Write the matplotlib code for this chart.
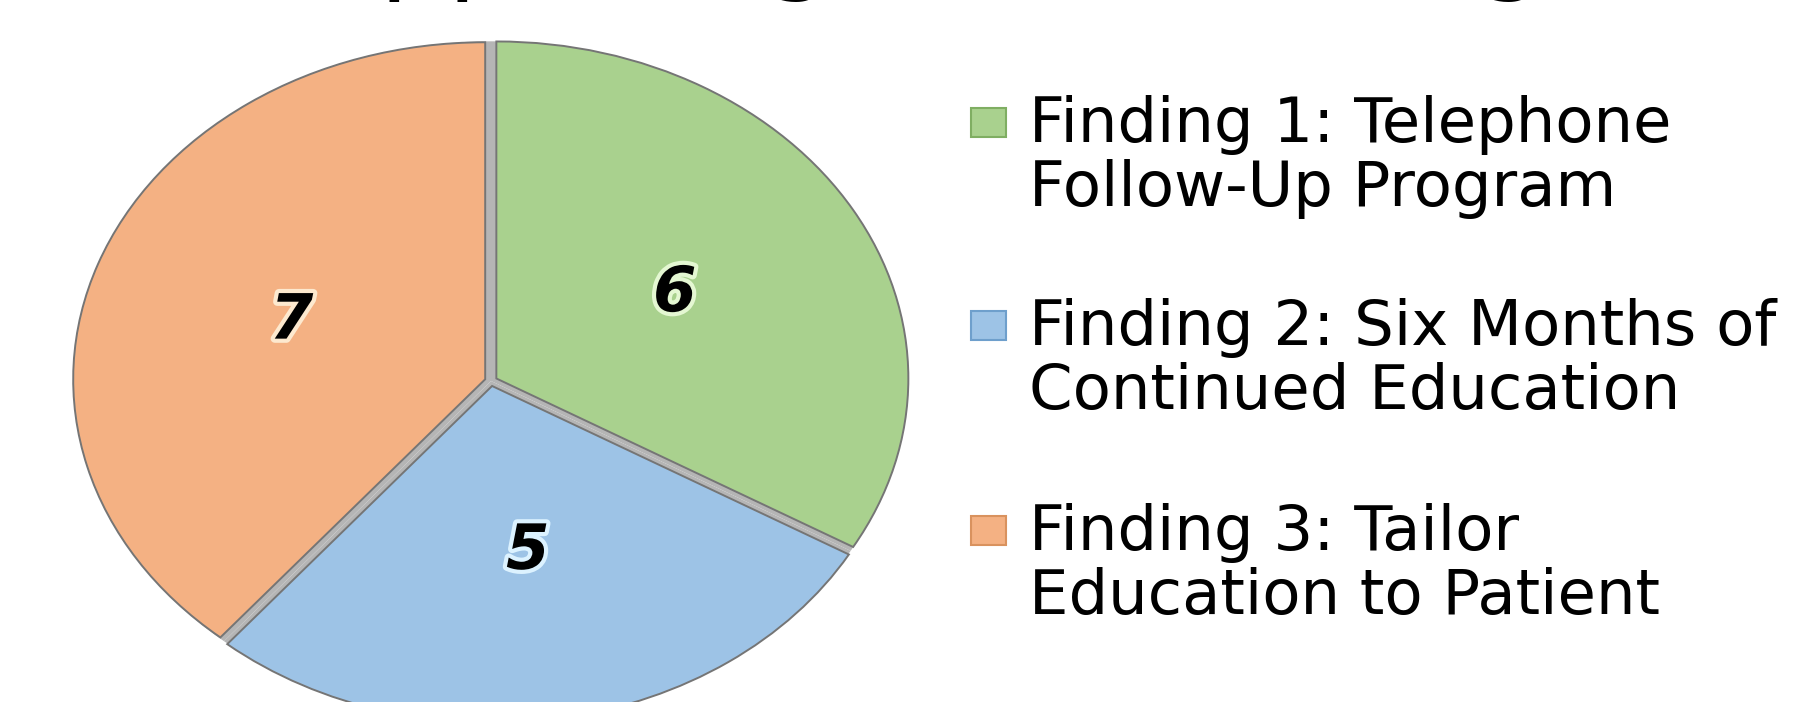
import matplotlib
matplotlib.use('Agg')
import matplotlib.pyplot as plt
import matplotlib.patheffects as pe
from matplotlib.patches import Rectangle

title = 'Supporting Each Finding'
findings = ['Finding 1: Telephone\nFollow-Up Program',
            'Finding 2: Six Months of\nContinued Education',
            'Finding 3: Tailor\nEducation to Patient']
counts = [6, 5, 7]
colors = ['#a9d18e', '#9dc3e6', '#f4b183']
edge_colors = ['#7fae62', '#6e9fcc', '#d9925e']
glow = ['#e4f7d2', '#dcf2ff', '#fde9cf']

W, H = 1806, 702
fig = plt.figure(figsize=(W / 100, H / 100), dpi=100)

# pie centre / radii in pixels - the original picture is stretched sideways
cx, cy = 491, H - 381
rx, ry = 412, 337
ax = fig.add_axes([(cx - 1.25 * rx) / W, (cy - 1.25 * ry) / H, 2.5 * rx / W, 2.5 * ry / H])

# gray backing, shows in the gaps like the excel shadow
ax.pie(counts, colors=['#b5b5b5'] * 3, startangle=90, counterclock=False,
       radius=1.008, wedgeprops=dict(linewidth=0))
wedges, texts, autotexts = ax.pie(counts, colors=colors, startangle=90, counterclock=False,
                                  explode=[0.015] * 3, pctdistance=0.5,
                                  autopct=lambda p: f'{p * sum(counts) / 100:.0f}',
                                  wedgeprops=dict(edgecolor='#757575', linewidth=1.4),
                                  textprops=dict(fontsize=45, fontweight='bold', fontstyle='italic'))
for t, g in zip(autotexts, glow):
    t.set_path_effects([pe.withStroke(linewidth=6, foreground=g)])
ax.set_aspect('auto')
ax.set_xlim(-1.25, 1.25)
ax.set_ylim(-1.25, 1.25)
ax.axis('off')

# title is mostly cut off above the picture, only descenders show
fig.text(895 / W, 1 + 20 / H, title, ha='center', va='baseline', fontsize=77)

# legend drawn by hand so the spacing matches
# (multi-line text sits on the baseline of its last line)
first_lines = [141, 344, 549]
for lab, c, ec, b in zip(findings, colors, edge_colors, first_lines):
    fig.patches.append(Rectangle((971 / W, (H - b + 4) / H), 35 / W, 29 / H,
                                 transform=fig.transFigure, facecolor=c, edgecolor=ec, lw=1.5))
    fig.text(1029 / W, (H - b - 65) / H, lab, fontsize=45, ha='left', va='baseline', linespacing=1.08)

fig.savefig('out.png', dpi=100)
